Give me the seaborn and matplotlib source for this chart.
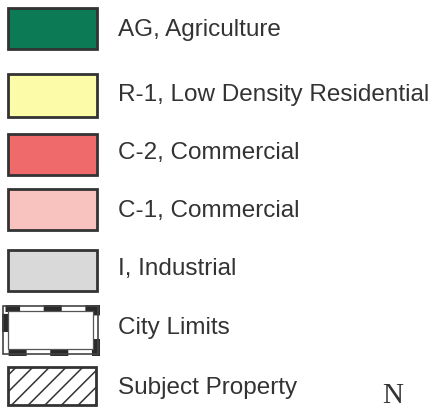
import matplotlib
matplotlib.use("Agg")
import matplotlib.pyplot as plt
import seaborn as sns

# legend entries
labels = ["AG, Agriculture", "R-1, Low Density Residential", "C-2, Commercial",
          "C-1, Commercial", "I, Industrial", "City Limits", "Subject Property"]
fills = ["#0d7a56", "#fcfca8", "#ef6b6b", "#f8c3bf", "#d9d9d9", "white", "white"]
tops = [8, 74, 134, 189, 250, 305, 367]
bottoms = [49, 117, 175, 230, 291, 355, 405]
text_y = [30, 95, 153, 211, 269, 328, 388]

sns.set_theme(style="white")
plt.rcParams["font.family"] = ["Liberation Sans", "DejaVu Sans"]
plt.rcParams["hatch.linewidth"] = 1.1
plt.rcParams["hatch.color"] = "#333333"

fig = plt.figure(figsize=(4.48, 4.09), dpi=100, facecolor="white")
ax = fig.add_axes([0, 0, 1, 1])
ax.set_xlim(0, 448)
ax.set_ylim(409, 0)
ax.axis("off")

for i, lab in enumerate(labels):
    h = bottoms[i] - tops[i]
    c = (tops[i] + bottoms[i]) / 2
    if lab == "City Limits":
        ax.barh(c, 91, left=5, height=h - 6, color="white",
                edgecolor="#2a2a2a", linewidth=5, linestyle=(0.5, (2.6, 3.4)))
        ax.barh(c, 95, left=3, height=h - 2, color="none", edgecolor="#444444", linewidth=1.2)
        ax.barh(c, 85, left=8, height=h - 12, color="none", edgecolor="#555555", linewidth=0.9)
    elif lab == "Subject Property":
        ax.barh(c, 88, left=8, height=h, color="white", edgecolor="#333333",
                linewidth=2, hatch="//")
    else:
        ax.barh(c, 89, left=8, height=h, color=fills[i], edgecolor="#333333", linewidth=2)
    ax.text(118, text_y[i], lab, fontsize=17.5, color="#333333", va="center", ha="left")

ax.text(393, 396, "N", fontsize=21, family="Liberation Serif",
        color="#333333", va="center", ha="center")

fig.savefig("out.png", dpi=100, facecolor="white")
